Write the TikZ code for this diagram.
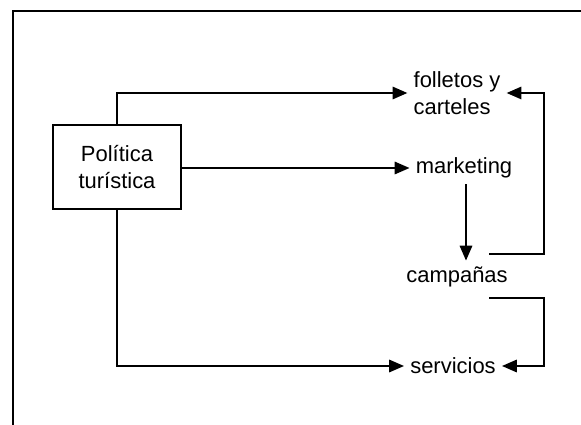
\documentclass[tikz,border=0pt]{standalone}
\usepackage{fontspec}
\setmainfont{Liberation Sans}
\usetikzlibrary{positioning, arrows, arrows.meta}

\tikzset{
  flow/.style={-{Triangle[length=8.5pt,width=7pt]}, line width=1.3pt},
  item/.style={font=\fontsize{12.5}{15.5}\selectfont, align=left},
}

\begin{document}
\begin{tikzpicture}[x=0.02cm, y=-0.02cm]
\useasboundingbox (0,0) rectangle (581,425);
% frame
\draw[line width=1.1pt] (581,11) -- (13,11) -- (13,425);
% policy box
\node[draw, line width=1.3pt, minimum width=2.56cm, minimum height=1.68cm,
      font=\fontsize{12.5}{15.5}\selectfont, align=center] (pol) at (117,167) {Política\\turística};
% targets
\node[item] (foll) at (457,93) {folletos y\\carteles};
\node[item] (mkt) at (464,168) {marketing};
\node[item] (camp) at (457,277) {campañas};
\node[item] (serv) at (453,366) {servicios};
% corners of the return lines
\coordinate (c1) at (489,254);
\coordinate (r1) at (544,254);
\coordinate (c2) at (489,298);
\coordinate (r2) at (544,298);
% arrows from the box
\draw[flow] (pol.north) |- (foll.west);
\draw[flow] (pol.east |- mkt.west) -- (mkt.west);
\draw[flow] (pol.south) |- (serv.west);
% marketing to campaigns
\draw[flow] ([xshift=0.04cm]mkt.south) -- ([xshift=0.04cm]mkt.south |- camp.north);
% return lines
\draw[flow] (c1) -- (r1) |- (foll.east);
\draw[flow] (c2) -- (r2) |- (serv.east);
\end{tikzpicture}
\end{document}
